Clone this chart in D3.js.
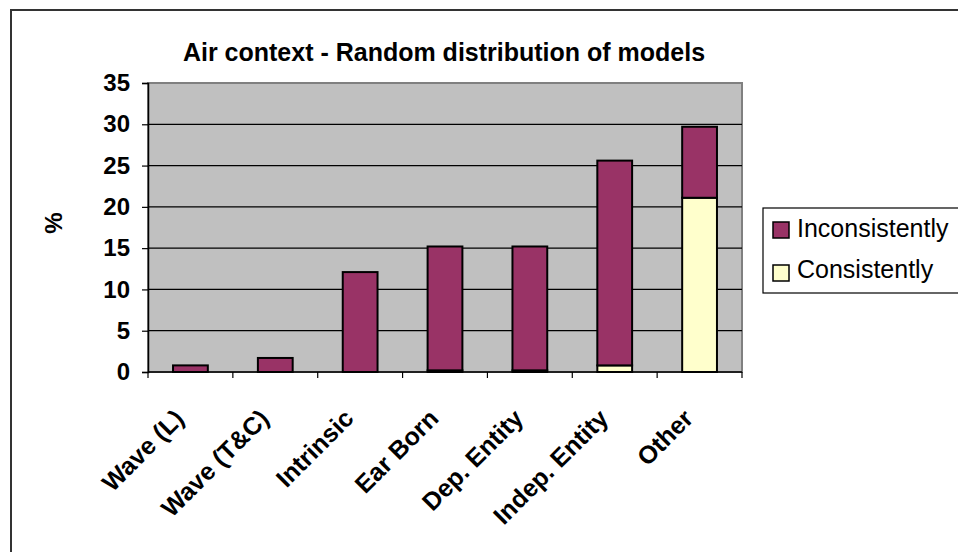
<!DOCTYPE html>
<html>
<head>
<meta charset="utf-8">
<script src="https://cdn.jsdelivr.net/npm/d3@7"></script>
<style>
  body { margin: 0; background: #fff; }
  text { font-family: "Liberation Sans", Arial, sans-serif; }
</style>
</head>
<body>
<div id="chart-area"></div>
<script>
var categories = ["Wave (L)", "Wave (T&C)", "Intrinsic", "Ear Born", "Dep. Entity", "Indep. Entity", "Other"];
var consistently = [0, 0, 0, 0.2, 0.2, 0.8, 21.1];
var inconsistently = [0.8, 1.7, 12.1, 15.0, 15.0, 24.8, 8.6];
var yTicks = [0, 5, 10, 15, 20, 25, 30, 35];
var seriesNames = ["Consistently", "Inconsistently"];
var seriesColors = ["#ffffcc", "#993366"];

var margin = { left: 148, top: 83 };
var width = 742 - 148;
var height = 372 - 83;

var svg = d3.select("#chart-area")
  .append("svg")
  .attr("width", 958)
  .attr("height", 552);

// chart border
svg.append("rect")
  .attr("x", 11).attr("y", 10)
  .attr("width", 980).attr("height", 600)
  .attr("fill", "#fff")
  .attr("stroke", "#333")
  .attr("stroke-width", 2);

// title
svg.append("text")
  .attr("x", 444)
  .attr("y", 61)
  .attr("text-anchor", "middle")
  .attr("font-size", "25px")
  .attr("font-weight", "bold")
  .text("Air context - Random distribution of models");

var g = svg.append("g")
  .attr("transform", "translate(" + margin.left + "," + margin.top + ")");

var table = categories.map((c, i) => ({ name: c, Consistently: consistently[i], Inconsistently: inconsistently[i] }));
var stacked = d3.stack().keys(seriesNames)(table);

var x = d3.scaleBand()
  .domain(categories)
  .range([0, width])
  .paddingInner(0.59)
  .paddingOuter(0.295);

var xTickScale = d3.scaleBand().domain(categories).range([0, width]);

var y = d3.scaleLinear()
  .domain([0, 35])
  .range([height, 0]);

var color = d3.scaleOrdinal().domain(seriesNames).range(seriesColors);

// plot area
g.append("rect")
  .attr("width", width)
  .attr("height", height)
  .attr("fill", "#c0c0c0")
  .attr("stroke", "#808080")
  .attr("stroke-width", 2);

// gridlines
g.selectAll(".grid")
  .data(yTicks.filter(d => d > 0 && d < 35))
  .enter()
  .append("line")
  .attr("x1", 0).attr("x2", width)
  .attr("y1", d => y(d)).attr("y2", d => y(d))
  .attr("stroke", "#000")
  .attr("stroke-width", 1.2);

// bars
g.selectAll(".series")
  .data(stacked)
  .enter()
  .append("g")
  .attr("fill", d => color(d.key))
  .selectAll("rect")
  .data(d => d)
  .enter()
  .append("rect")
  .attr("x", d => x(d.data.name))
  .attr("y", d => y(d[1]))
  .attr("width", x.bandwidth())
  .attr("height", d => y(d[0]) - y(d[1]))
  .attr("stroke", "#000")
  .attr("stroke-width", d => (d[1] - d[0]) > 0 ? 2 : 0);

// Y Axis
var yAxis = g.append("g")
  .call(d3.axisLeft(y).tickValues(yTicks).tickSize(6).tickPadding(12));
yAxis.select(".domain").attr("stroke-width", 1.5);
yAxis.selectAll("line").attr("stroke-width", 1.2);
yAxis.selectAll("text")
  .attr("font-size", "24px")
  .attr("font-weight", "bold")
  .attr("font-family", "Liberation Sans, Arial, sans-serif")
  .attr("fill", "#000");

// X Axis (ticks at category boundaries)
var xAxisG = g.append("g").attr("transform", "translate(0," + height + ")");
xAxisG.append("line")
  .attr("x1", 0).attr("x2", width)
  .attr("stroke", "#000").attr("stroke-width", 1.5);
xAxisG.selectAll(".tick")
  .data(categories.concat(["end"]))
  .enter()
  .append("line")
  .attr("x1", (d, i) => i < categories.length ? xTickScale(d) : width)
  .attr("x2", (d, i) => i < categories.length ? xTickScale(d) : width)
  .attr("y1", 0).attr("y2", 6)
  .attr("stroke", "#000").attr("stroke-width", 1.2);

xAxisG.selectAll(".label")
  .data(categories)
  .enter()
  .append("text")
  .attr("text-anchor", "end")
  .attr("font-size", "25px")
  .attr("font-weight", "bold")
  .attr("transform", d => "translate(" + (xTickScale(d) + xTickScale.bandwidth() / 2 - 5) + ",48) rotate(-45)")
  .text(d => d);

// Y Label
svg.append("text")
  .attr("transform", "translate(62,223) rotate(-90)")
  .attr("text-anchor", "middle")
  .attr("font-size", "24px")
  .attr("font-weight", "bold")
  .text("%");

// Legend
var legend = svg.append("g").attr("transform", "translate(763,208)");
legend.append("rect")
  .attr("width", 220).attr("height", 85)
  .attr("fill", "#fff")
  .attr("stroke", "#000")
  .attr("stroke-width", 1.2);

var legendItems = ["Inconsistently", "Consistently"];
legendItems.forEach((name, i) => {
  legend.append("rect")
    .attr("x", 10).attr("y", 14 + i * 43)
    .attr("width", 16).attr("height", 16)
    .attr("fill", color(name))
    .attr("stroke", "#000")
    .attr("stroke-width", 1.5);
  legend.append("text")
    .attr("x", 34).attr("y", 29 + i * 41)
    .attr("font-size", "25px")
    .text(name);
});
</script>
</body>
</html>
